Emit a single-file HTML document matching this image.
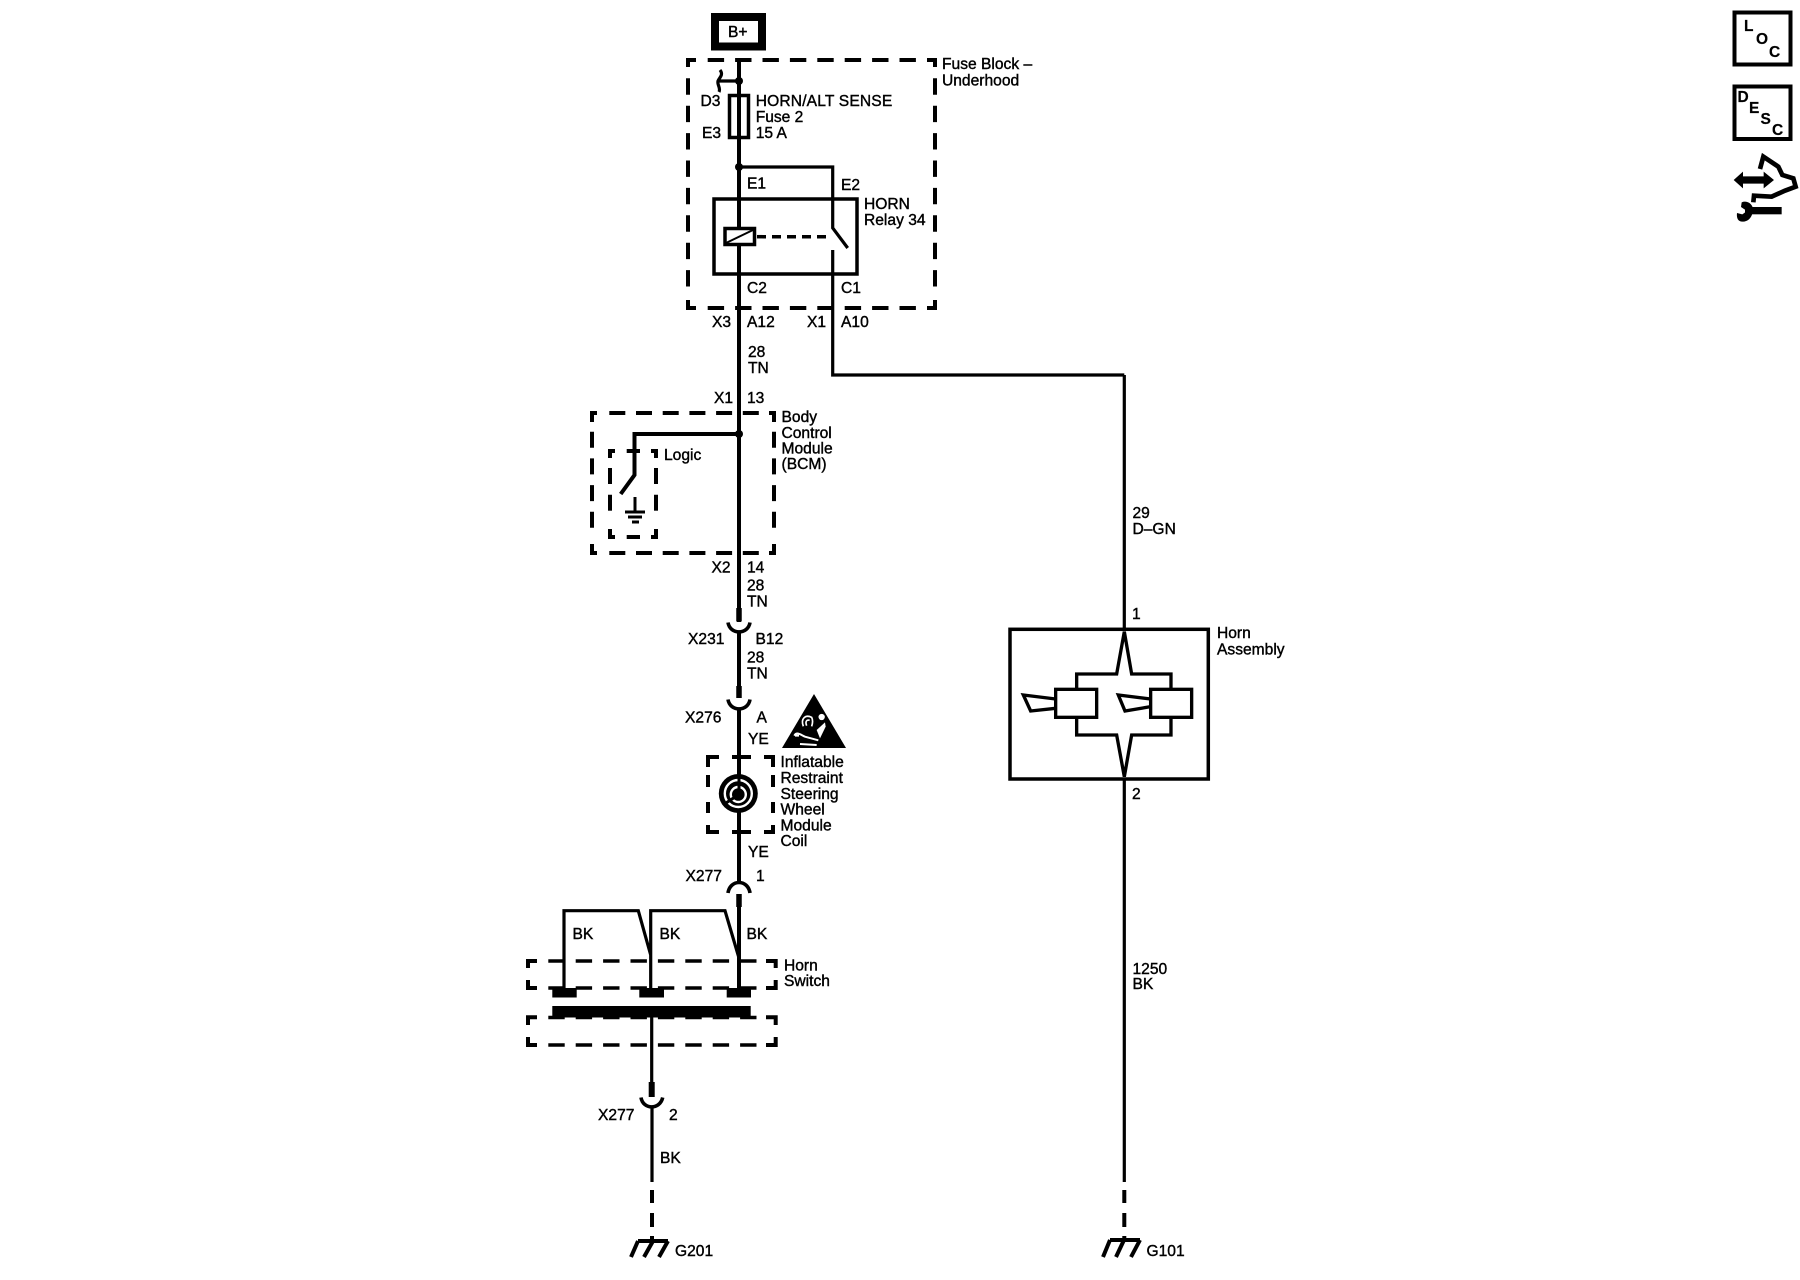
<!DOCTYPE html>
<html><head><meta charset="utf-8"><style>
html,body{margin:0;padding:0;background:#fff;width:1800px;height:1280px;overflow:hidden}
svg{display:block}
text{font-family:"Liberation Sans",sans-serif;font-size:15.6px;fill:#000;stroke:#000;stroke-width:.4}
.w{fill:none;stroke:#000;stroke-width:4}
.t{fill:none;stroke:#000;stroke-width:3.2}
.d{fill:none;stroke:#000;stroke-width:4;stroke-dasharray:16.4 11}
.e{fill:none;stroke:#000;stroke-width:4;stroke-dasharray:16 10.7}
.i{font-weight:bold;font-size:15.5px;stroke-width:.2}
</style></head><body>
<svg width="1800" height="1280" viewBox="0 0 1800 1280" xmlns="http://www.w3.org/2000/svg">
<rect width="1800" height="1280" fill="#fff"/>

<!-- B+ -->
<rect x="715" y="17" width="47" height="29.500" fill="#fff" stroke="#000" stroke-width="8"/>
<text x="728" y="37">B+</text>

<!-- Fuse block dashed box -->
<path class="w" d="M688 67V60H696M927 60H935V67M688 300V308H696M927 308H935V300"/>
<path class="d" d="M707.700 60H922"/>
<path class="d" d="M707.700 308H922"/>
<path class="d" d="M688 78.300V296"/>
<path class="d" d="M935 78.300V296"/>

<!-- main wire -->
<path class="w" d="M739 58V622"/>
<path fill="none" stroke="#000" stroke-width="5.500" d="M739 608V621.500"/>
<path fill="none" stroke="#000" stroke-width="3.600" d="M728 622.500C730 635 748 635 750 622.500"/>
<path class="w" d="M739 632V698"/>
<path fill="none" stroke="#000" stroke-width="5.500" d="M739 686V698"/>
<path fill="none" stroke="#000" stroke-width="3.600" d="M728 699.500C730 712 748 712 750 699.500"/>
<path class="w" d="M739 709V882"/>
<path fill="none" stroke="#000" stroke-width="3.600" d="M728 893C730 879 748 879 750 893"/>
<path fill="none" stroke="#000" stroke-width="5.500" d="M739 894V907"/>
<path class="w" d="M739 905V988"/>

<!-- D3 jumper -->
<circle cx="739" cy="81" r="4" fill="#000"/>
<path class="t" d="M739 81H718M720 70C724 75 719 78 718 81C717 85 721 88 719 92"/>
<!-- fuse -->
<rect x="729.500" y="95.500" width="19" height="42" fill="none" stroke="#000" stroke-width="3.500"/>

<!-- relay -->
<circle cx="739" cy="167" r="4" fill="#000"/>
<path class="t" d="M739 167H832.700V228L847.700 248"/>
<path class="t" d="M832.700 250V375H1124.300"/>
<rect x="714" y="199" width="143" height="75" fill="none" stroke="#000" stroke-width="3.500"/>
<rect x="725" y="228.500" width="29.500" height="16" fill="#fff" stroke="#000" stroke-width="3.500"/>
<path d="M726 243L753 230" stroke="#000" stroke-width="2" fill="none"/>
<path d="M757 236.700H832" stroke="#000" stroke-width="3.500" stroke-dasharray="9 6" fill="none"/>

<!-- BCM -->
<path class="w" d="M592 422V413H597M769 413H774V422M592 544V553H597M769 553H774V544"/>
<path class="e" d="M609.300 413H762"/>
<path class="e" d="M609.300 553H762"/>
<path class="e" d="M592 431.700V538"/>
<path class="e" d="M774 431.700V538"/>
<circle cx="739" cy="434" r="4" fill="#000"/>
<path class="w" d="M739 434H634.500V475L620.700 494"/>
<!-- Logic -->
<path class="w" d="M610 458V451H615M651 451H656V458M610 529V537H615M651 537H656V529"/>
<path class="w" d="M626.700 451H640M626.700 537H640" />
<path class="e" d="M610 468V518"/>
<path class="e" d="M656 468V518"/>
<!-- ground -->
<path d="M635 497V512M625 512H645M628 517H642M632 522H639" stroke="#000" stroke-width="3" fill="none"/>

<!-- airbag triangle -->
<path d="M814 694L782 748H846Z" fill="#000"/>
<g transform="translate(775 685) scale(.3333)" fill="none" stroke="#fff" stroke-width="5">
<path d="M85 124C76 100 92 88 110 97C114 105 114 112 110 124M95 122C90 110 95 103 104 106"/>
<circle cx="140" cy="96" r="7" fill="#fff"/>
<path d="M150 112L125 135L135 160L152 125Z" fill="#fff" stroke="none"/>
<path d="M58 152C65 138 78 150 90 155L130 166M60 152H72M75 177L125 180" stroke-width="6"/>
</g>

<!-- clockspring -->
<path class="w" d="M708 767V757H719M764 757H775M773 757V767M708 825V832H719M764 832H775M773 832V825M732 757H751M732 832H751M708 775V787M708 802V813M773 775V787M773 802V813"/>
<circle cx="738.300" cy="793.500" r="19.500" fill="#000"/>
<circle cx="738.300" cy="793.500" r="13.500" fill="none" stroke="#fff" stroke-width="2.400"/>
<circle cx="738.300" cy="794.500" r="7.500" fill="none" stroke="#fff" stroke-width="2.400"/>
<path d="M739 774V792M726 803L735 797" stroke="#000" stroke-width="3" fill="none"/>

<!-- Horn switch -->
<path class="t" d="M564 988V910.700H638.300L650.700 955M650.700 988V910.700H725L739 958"/>
<path class="w" d="M528 968V961H537M766 961H775.700V968M528 980V988H537M766 988H775.700V980M528 1025V1017.300H537M766 1017.300H775.700V1025M528 1037V1045H537M766 1045H775.700V1037" stroke-width="3.500"/>
<path class="d" d="M548.300 961H760" style="stroke-width:3.500"/>
<path class="d" d="M548.300 988H760" style="stroke-width:3.500"/>
<path class="d" d="M548.300 1017.500H760" style="stroke-width:3.500"/>
<path class="d" d="M548.300 1045H760" style="stroke-width:3.500"/>
<rect x="552.300" y="988" width="24.400" height="9.500" fill="#000"/>
<rect x="639.300" y="988" width="24.700" height="9.500" fill="#000"/>
<rect x="726.700" y="988" width="24.300" height="9.500" fill="#000"/>
<rect x="552.300" y="1006" width="198.400" height="11.500" fill="#000"/>

<!-- lower wire -->
<path class="t" d="M651.700 1017V1082"/>
<path fill="none" stroke="#000" stroke-width="6" d="M651.700 1082V1097"/>
<path fill="none" stroke="#000" stroke-width="3.600" d="M641 1097.500C643 1110 660 1110 662.700 1097.500"/>
<path class="t" d="M652 1107V1182"/>
<path class="w" d="M652 1190V1203M652 1213V1227M652 1236V1241"/>
<path d="M638 1241H668M638 1241L631 1257M653 1241L644 1257M668 1241L659 1257" fill="none" stroke="#000" stroke-width="4"/>

<!-- right wire -->
<path class="t" d="M1124.300 375V630M1124.300 778V1182"/>
<path class="w" d="M1124.300 1190V1203M1124.300 1213V1227M1124.300 1236V1241"/>
<path d="M1110 1240H1140M1110 1240L1103 1257M1124 1240L1116 1257M1140 1240L1131 1257" fill="none" stroke="#000" stroke-width="4"/>

<!-- Horn assembly -->
<rect x="1010" y="629.300" width="198.300" height="149.700" fill="none" stroke="#000" stroke-width="3.500"/>
<g transform="translate(990 600) scale(.3333)" fill="none" stroke="#000" stroke-width="10">
<path d="M260 268V222H380L403 95L425 222H543V268M543 352V405H425L403 530L380 405H260V352"/>
<rect x="197" y="268" width="123" height="84"/>
<rect x="482" y="268" width="123" height="84"/>
<path d="M197 297L100 285L122 333L197 325"/>
<path d="M482 297L385 285L405 333L482 320"/>
</g>

<!-- icons -->
<rect x="1734.500" y="12.500" width="56" height="52" fill="#fff" stroke="#000" stroke-width="4"/>
<rect x="1734.500" y="86.500" width="56" height="52.500" fill="#fff" stroke="#000" stroke-width="4"/>
<g transform="translate(1725 145) scale(.3333)">
<path d="M26 105L54 80V94H116V80L147 105L116 130V116H54V130Z" fill="#000"/>
<path d="M85 172L87 152L140 155L180 137L212 125L205 100L172 90L160 65L115 35L105 72" fill="none" stroke="#000" stroke-width="14"/>
<rect x="60" y="186" width="110" height="22" fill="#000"/>
<path d="M50 172C64 166 80 174 84 190C84 214 72 230 52 230C40 230 34 220 36 204L52 208L66 198L48 186Z" fill="#000"/>
</g>
<text class="i" x="1744" y="31">L</text><text class="i" x="1756" y="44">O</text><text class="i" x="1769" y="57">C</text>
<text class="i" x="1737.500" y="102">D</text><text class="i" x="1749" y="113">E</text><text class="i" x="1760.500" y="124">S</text><text class="i" x="1772" y="135">C</text>

<!-- labels -->
<text x="700.500" y="106">D3</text>
<text x="702" y="138">E3</text>
<text x="755.700" y="106" style="letter-spacing:.15px">HORN/ALT SENSE</text>
<text x="755.700" y="122">Fuse 2</text>
<text x="755.700" y="138">15 A</text>
<text x="942" y="69">Fuse Block –</text>
<text x="942" y="85.500">Underhood</text>
<text x="747" y="188.500">E1</text>
<text x="841" y="190">E2</text>
<text x="864" y="209">HORN</text>
<text x="864" y="225">Relay 34</text>
<text x="747" y="293">C2</text>
<text x="841" y="293">C1</text>
<text x="712" y="327">X3</text>
<text x="747" y="327">A12</text>
<text x="807" y="327">X1</text>
<text x="841" y="327">A10</text>
<text x="748" y="357">28</text>
<text x="748" y="373">TN</text>
<text x="714" y="403">X1</text>
<text x="747" y="403">13</text>
<text x="664" y="460">Logic</text>
<text x="781.500" y="422">Body</text>
<text x="781.500" y="438">Control</text>
<text x="781.500" y="453.500">Module</text>
<text x="781.500" y="469">(BCM)</text>
<text x="711.500" y="572.500">X2</text>
<text x="747" y="572.500">14</text>
<text x="747" y="590.500">28</text>
<text x="747" y="606.500">TN</text>
<text x="688" y="644">X231</text>
<text x="755.500" y="644">B12</text>
<text x="747" y="662.500">28</text>
<text x="747" y="678.500">TN</text>
<text x="685" y="722.500">X276</text>
<text x="756.500" y="722.500">A</text>
<text x="748" y="744">YE</text>
<text x="780.500" y="767">Inflatable</text>
<text x="780.500" y="783">Restraint</text>
<text x="780.500" y="799">Steering</text>
<text x="780.500" y="814.500">Wheel</text>
<text x="780.500" y="830.500">Module</text>
<text x="780.500" y="846">Coil</text>
<text x="748" y="857">YE</text>
<text x="685.500" y="881">X277</text>
<text x="756" y="881">1</text>
<text x="572.500" y="939">BK</text>
<text x="659.500" y="939">BK</text>
<text x="746.500" y="939">BK</text>
<text x="784" y="970.500">Horn</text>
<text x="784" y="986">Switch</text>
<text x="598" y="1120">X277</text>
<text x="669" y="1120">2</text>
<text x="660" y="1163">BK</text>
<text x="675" y="1256">G201</text>
<text x="1132.500" y="518">29</text>
<text x="1132.500" y="534">D–GN</text>
<text x="1132" y="619">1</text>
<text x="1217" y="638">Horn</text>
<text x="1217" y="654.500">Assembly</text>
<text x="1132" y="799">2</text>
<text x="1132.500" y="974">1250</text>
<text x="1132.500" y="989">BK</text>
<text x="1146.500" y="1256">G101</text>
</svg>
</body></html>
